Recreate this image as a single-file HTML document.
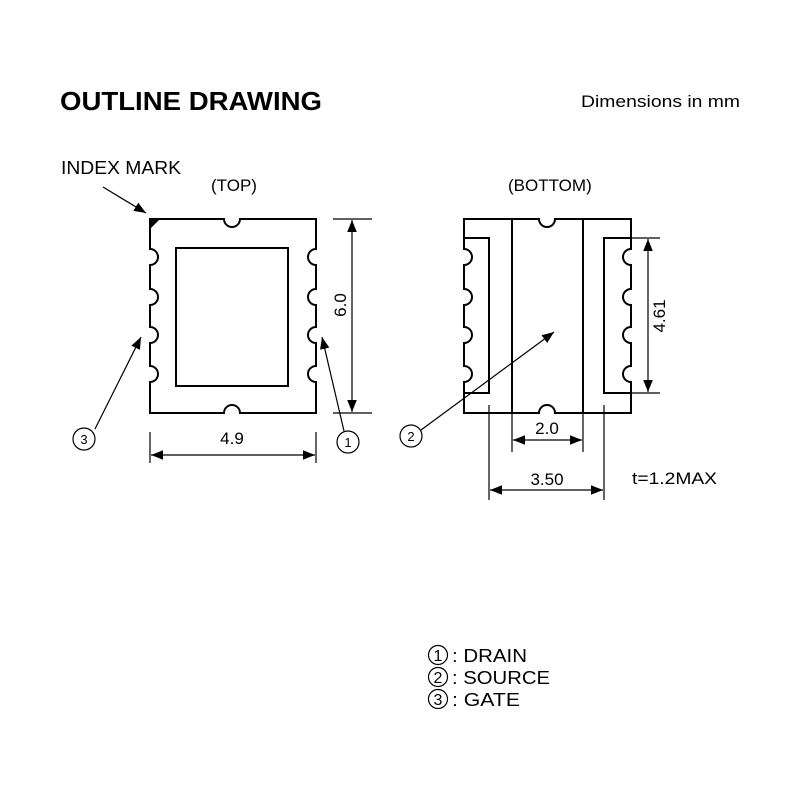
<!DOCTYPE html>
<html><head><meta charset="utf-8"><style>
html,body{margin:0;padding:0;background:#fff;}
svg{display:block;}
text{font-family:"Liberation Sans",Arial,sans-serif;fill:#000;}
</style></head><body>
<svg width="800" height="800" viewBox="0 0 800 800" xmlns="http://www.w3.org/2000/svg">
<defs>
<marker id="ar" viewBox="0 0 10 10" refX="10" refY="5" markerWidth="12" markerHeight="12" markerUnits="userSpaceOnUse" orient="auto-start-reverse">
<path d="M0,1 L10,5 L0,9 Z" fill="#000"/></marker>
</defs>
<text x="60" y="110" font-size="26" font-weight="bold" textLength="262" lengthAdjust="spacingAndGlyphs">OUTLINE DRAWING</text>
<text x="581" y="107" font-size="17" textLength="159" lengthAdjust="spacingAndGlyphs">Dimensions in mm</text>
<text x="61" y="174" font-size="18" textLength="120" lengthAdjust="spacingAndGlyphs">INDEX MARK</text>
<text x="211" y="191" font-size="17">(TOP)</text>
<text x="508" y="191" font-size="17">(BOTTOM)</text>

<g fill="none" stroke="#000" stroke-width="2">
<path d="M150,219 H224 A8,8 0 0 0 240,219 H316 V249 A8,8 0 0 0 316,265 V289 A8,8 0 0 0 316,305 V327 A8,8 0 0 0 316,343 V366 A8,8 0 0 0 316,382 V413 H240 A8,8 0 0 0 224,413 H150 V382 A8,8 0 0 0 150,366 V343 A8,8 0 0 0 150,327 V305 A8,8 0 0 0 150,289 V265 A8,8 0 0 0 150,249 Z"/>
<rect x="176" y="248" width="112" height="138"/>
<path d="M464,219 H539 A8,8 0 0 0 555,219 H631 V249 A8,8 0 0 0 631,265 V289 A8,8 0 0 0 631,305 V327 A8,8 0 0 0 631,343 V366 A8,8 0 0 0 631,382 V413 H555 A8,8 0 0 0 539,413 H464 V382 A8,8 0 0 0 464,366 V343 A8,8 0 0 0 464,327 V305 A8,8 0 0 0 464,289 V265 A8,8 0 0 0 464,249 Z"/>
<line x1="512" y1="219" x2="512" y2="413"/>
<line x1="583" y1="219" x2="583" y2="413"/>
<path d="M464,238 H489 V393 H464"/>
<path d="M631,238 H604 V393 H631"/>
</g>
<path d="M151,220 L159,220 L151,228 Z" fill="#000"/>

<g stroke="#000" stroke-width="1.2" fill="none">
<line x1="333" y1="219" x2="372" y2="219"/>
<line x1="333" y1="413" x2="372" y2="413"/>
<line x1="352" y1="220" x2="352" y2="412" marker-start="url(#ar)" marker-end="url(#ar)"/>
<line x1="150" y1="432" x2="150" y2="463"/>
<line x1="316" y1="432" x2="316" y2="463"/>
<line x1="151" y1="455" x2="315" y2="455" marker-start="url(#ar)" marker-end="url(#ar)"/>
<line x1="604" y1="238" x2="660" y2="238"/>
<line x1="604" y1="393" x2="660" y2="393"/>
<line x1="648" y1="239" x2="648" y2="392" marker-start="url(#ar)" marker-end="url(#ar)"/>
<line x1="512" y1="413" x2="512" y2="452"/>
<line x1="583" y1="413" x2="583" y2="452"/>
<line x1="513" y1="440" x2="582" y2="440" marker-start="url(#ar)" marker-end="url(#ar)"/>
<line x1="489" y1="405" x2="489" y2="500"/>
<line x1="604" y1="405" x2="604" y2="500"/>
<line x1="490" y1="490" x2="603" y2="490" marker-start="url(#ar)" marker-end="url(#ar)"/>
<line x1="103" y1="187" x2="146" y2="213" marker-end="url(#ar)"/>
<line x1="95" y1="429" x2="141" y2="337" marker-end="url(#ar)"/>
<line x1="344" y1="431" x2="322" y2="337" marker-end="url(#ar)"/>
<line x1="421" y1="430" x2="554" y2="332" marker-end="url(#ar)"/>
<circle cx="84" cy="439" r="11"/>
<circle cx="348" cy="442" r="11"/>
<circle cx="411" cy="436" r="11"/>
<circle cx="438" cy="655" r="9.5"/>
<circle cx="438" cy="677" r="9.5"/>
<circle cx="438" cy="699" r="9.5"/>
</g>
<text x="84" y="444" font-size="13" text-anchor="middle">3</text>
<text x="348" y="447" font-size="13" text-anchor="middle">1</text>
<text x="411" y="441" font-size="13" text-anchor="middle">2</text>
<text x="438" y="661" font-size="16" text-anchor="middle">1</text>
<text x="438" y="683" font-size="16" text-anchor="middle">2</text>
<text x="438" y="705" font-size="16" text-anchor="middle">3</text>
<text x="452" y="662" font-size="18" textLength="75" lengthAdjust="spacingAndGlyphs">: DRAIN</text>
<text x="452" y="684" font-size="18" textLength="98" lengthAdjust="spacingAndGlyphs">: SOURCE</text>
<text x="452" y="706" font-size="18" textLength="68" lengthAdjust="spacingAndGlyphs">: GATE</text>

<text x="232" y="444" font-size="17" text-anchor="middle">4.9</text>
<text x="547" y="434" font-size="17" text-anchor="middle">2.0</text>
<text x="547" y="485" font-size="17" text-anchor="middle">3.50</text>
<text x="632" y="484" font-size="17" textLength="85" lengthAdjust="spacingAndGlyphs">t=1.2MAX</text>
<text transform="translate(346,305) rotate(-90)" font-size="17" text-anchor="middle">6.0</text>
<text transform="translate(665,316) rotate(-90)" font-size="17" text-anchor="middle">4.61</text>
</svg>
</body></html>
